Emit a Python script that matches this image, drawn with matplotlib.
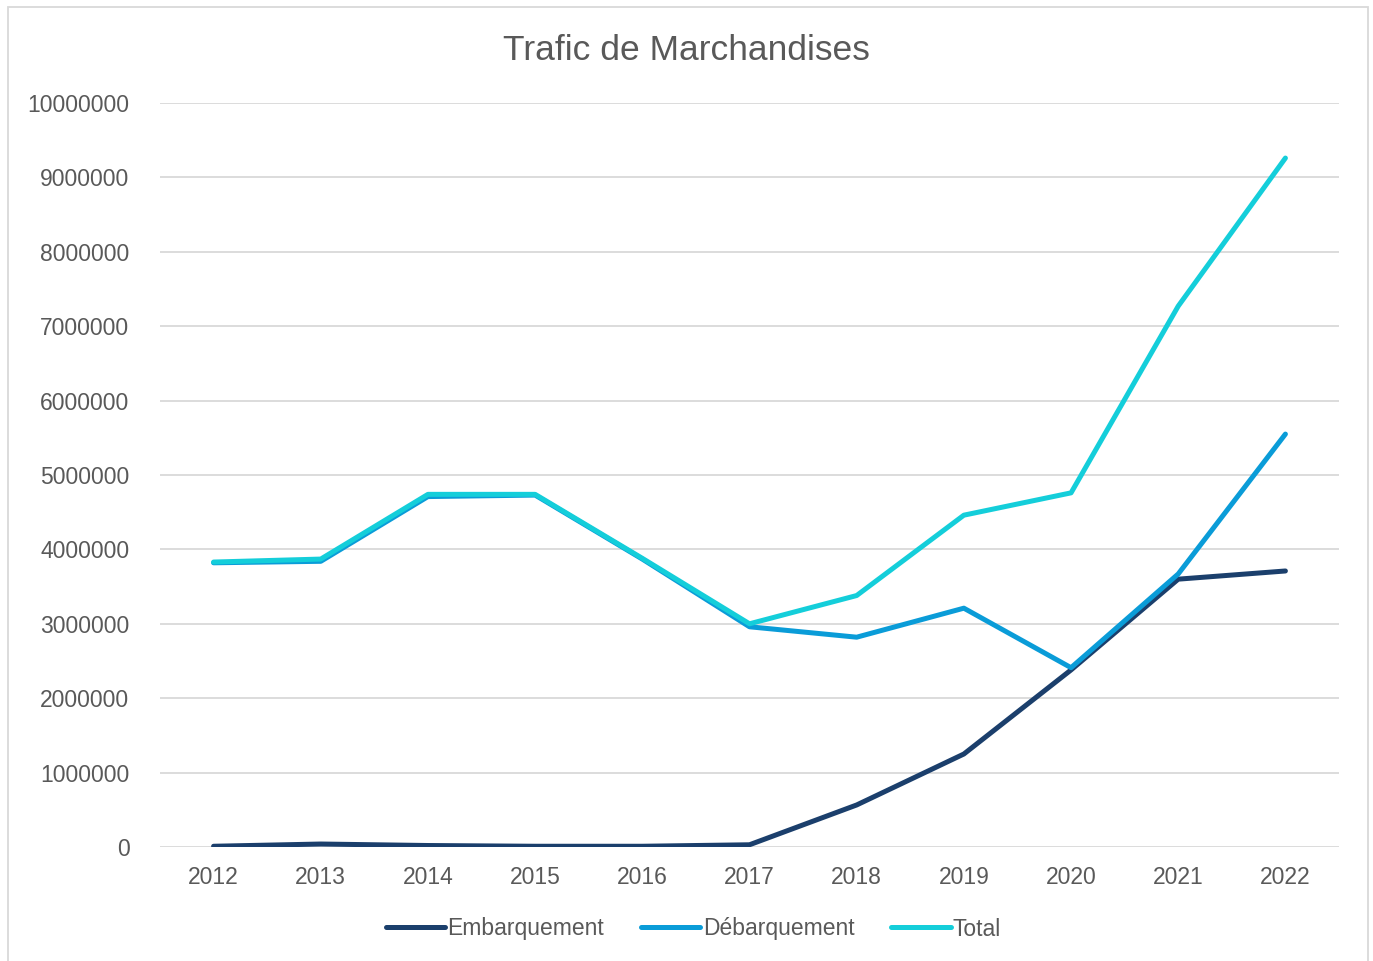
import matplotlib.pyplot as plt
from matplotlib.patches import Rectangle

# donnees
annees = ['2012', '2013', '2014', '2015', '2016', '2017', '2018', '2019', '2020', '2021', '2022']
embarquement = [10000, 40000, 20000, 10000, 10000, 30000, 565000, 1250000, 2380000, 3600000, 3710000]
debarquement = [3820000, 3840000, 4710000, 4730000, 3870000, 2960000, 2820000, 3210000, 2410000, 3670000, 5550000]
total = [3830000, 3870000, 4740000, 4740000, 3880000, 3000000, 3380000, 4460000, 4760000, 7270000, 9260000]

GRIS = '#595959'
plt.rcParams['font.family'] = ['Liberation Sans', 'DejaVu Sans']

fig = plt.figure(figsize=(13.73, 9.61), dpi=100)
ax = fig.add_axes([160 / 1373, 1 - 847 / 961, 1179 / 1373, 744 / 961])

x = range(len(annees))
ax.plot(x, embarquement, color='#1B3F6C', lw=3.6, solid_capstyle='round', label='Embarquement')
ax.plot(x, debarquement, color='#0A9CD8', lw=3.6, solid_capstyle='round', label='Débarquement')
ax.plot(x, total, color='#14CEDA', lw=3.6, solid_capstyle='round', label='Total')

ax.set_xlim(-0.5, len(annees) - 0.5)
ax.set_ylim(0, 10000000)
ax.set_yticks(range(0, 10000001, 1000000))
ax.set_yticklabels([str(v) for v in range(0, 10000001, 1000000)])
ax.set_xticks(list(x))
ax.set_xticklabels(annees)
ax.tick_params(length=0, labelsize=16.5, labelcolor=GRIS)
ax.tick_params(axis='y', pad=22)
ax.tick_params(axis='x', pad=14)
ax.grid(axis='y', color='#D9D9D9', lw=1.3)
ax.set_axisbelow(True)
for s in ax.spines.values():
    s.set_visible(False)

fig.text(0.5, 1 - 51 / 961, 'Trafic de Marchandises', ha='center', va='center', fontsize=25.5, color=GRIS)

fig.legend(loc='center', bbox_to_anchor=(0.505, 1 - 929 / 961), ncol=3, frameon=False,
           fontsize=16.5, labelcolor=GRIS, handlelength=2.6, handletextpad=0.1, columnspacing=1.6)

# cadre de la zone de graphique
fig.patches.append(Rectangle((8 / 1373, -0.02), 1360 / 1373, 1.02 - 7 / 961, transform=fig.transFigure,
                             fill=False, edgecolor='#D9D9D9', lw=1.3))

fig.savefig('out.png', dpi=100)
